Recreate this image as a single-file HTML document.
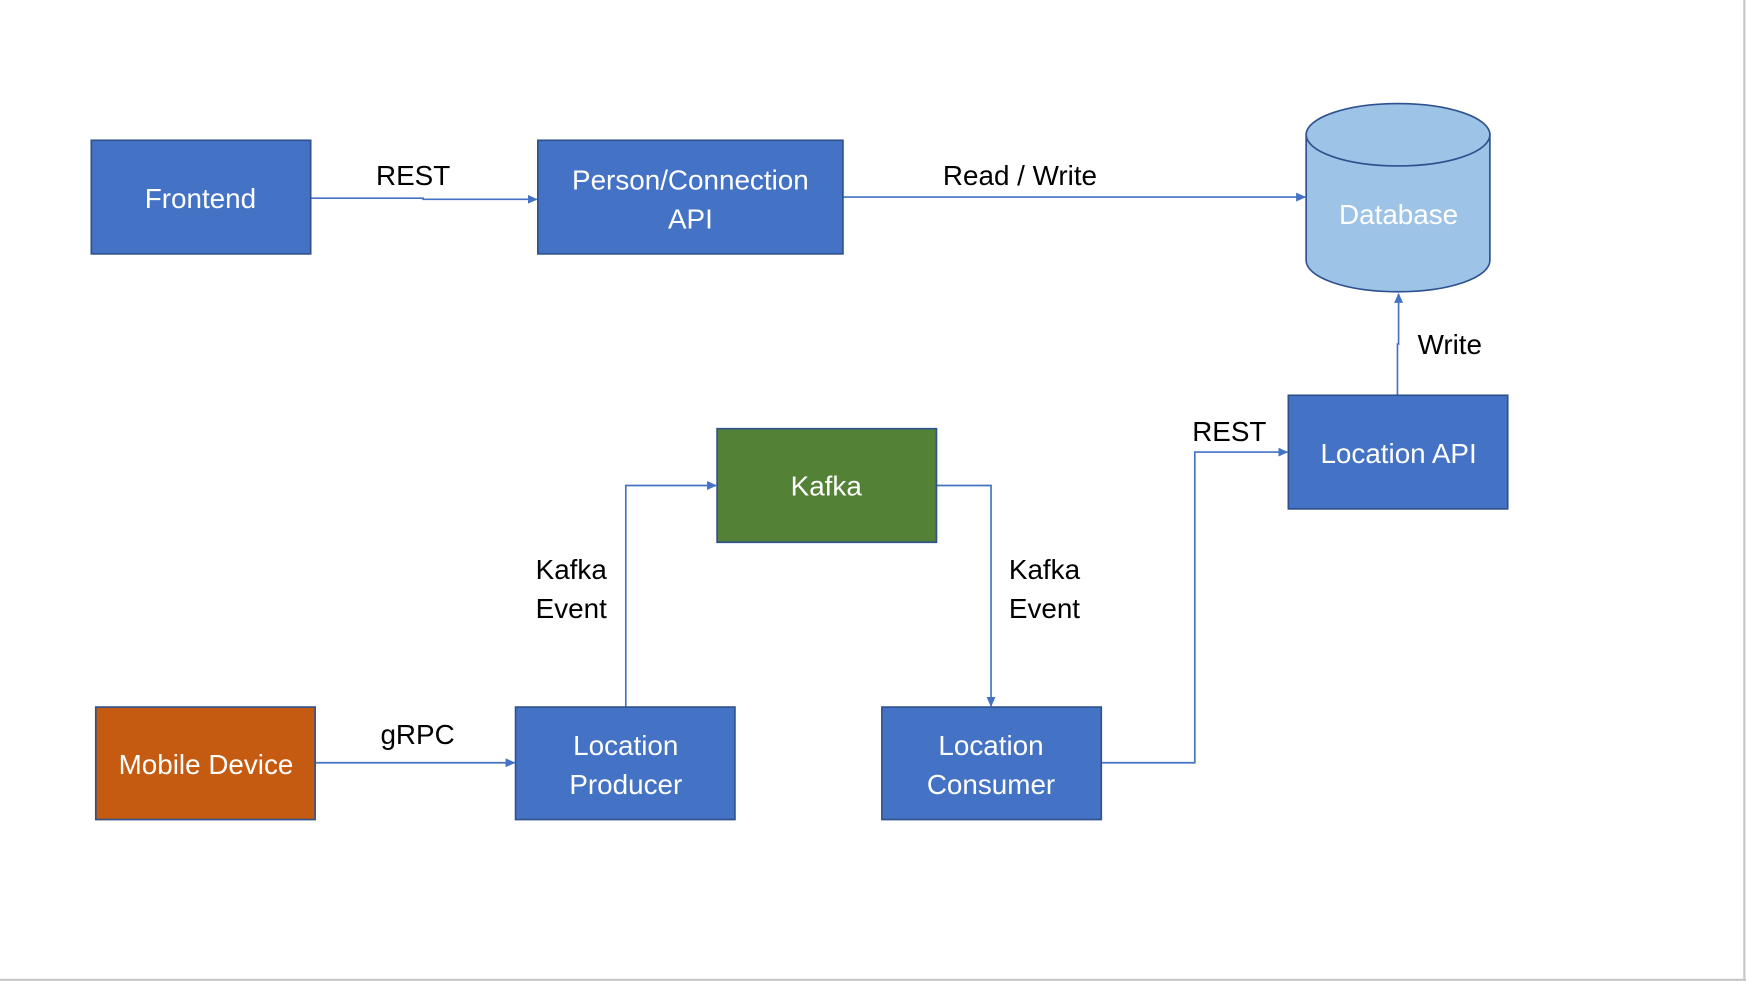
<!DOCTYPE html>
<html><head><meta charset="utf-8"><style>
html,body{margin:0;padding:0;background:#fff;width:1746px;height:981px;overflow:hidden}
svg{display:block}
text{font-family:"Liberation Sans",sans-serif;font-size:25px}
.w{fill:#fff;text-anchor:middle}
.b{fill:#000;text-anchor:middle}
.box{stroke:#2F528F;stroke-width:1.5}
.ln{stroke:#4472C4;stroke-width:1.5;fill:none}
</style></head><body>
<svg width="1746" height="981" viewBox="0 0 1568 881" preserveAspectRatio="none">
<defs><marker id="a" markerWidth="9" markerHeight="8" refX="8" refY="4" orient="auto" markerUnits="userSpaceOnUse"><path d="M0,0 L9,4 L0,8z" fill="#4472C4"/></marker></defs>
<rect x="0" y="0" width="1568" height="881" fill="#fff"/>
<line x1="1566.5" y1="0" x2="1566.5" y2="881" stroke="#c8c8c8" stroke-width="2"/>
<line x1="0" y1="880" x2="1568" y2="880" stroke="#c8c8c8" stroke-width="2"/>
<path class="ln" d="M279,178 H380 V179 H482" marker-end="url(#a)"/>
<path class="ln" d="M757,177 H1172" marker-end="url(#a)"/>
<path class="ln" d="M1255,355 V309 H1256 V264" marker-end="url(#a)"/>
<path class="ln" d="M283,685 H462" marker-end="url(#a)"/>
<path class="ln" d="M562,635 V436 H643" marker-end="url(#a)"/>
<path class="ln" d="M841,436 H890 V634" marker-end="url(#a)"/>
<path class="ln" d="M989,685 H1073 V406 H1156" marker-end="url(#a)"/>
<rect class="box" x="82" y="126" width="197" height="102" fill="#4472C4"/>
<rect class="box" x="483" y="126" width="274" height="102" fill="#4472C4"/>
<rect class="box" x="1157" y="355" width="197" height="102" fill="#4472C4"/>
<rect class="box" x="644" y="385" width="197" height="102" fill="#538135"/>
<rect class="box" x="86" y="635" width="197" height="101" fill="#C55A11"/>
<rect class="box" x="463" y="635" width="197" height="101" fill="#4472C4"/>
<rect class="box" x="792" y="635" width="197" height="101" fill="#4472C4"/>
<path d="M1173,121 V234 A82.5,28 0 0 0 1338,234 V121" fill="#9DC3E6" stroke="#2F528F" stroke-width="1.5"/>
<ellipse cx="1255.5" cy="121" rx="82.5" ry="28" fill="#9DC3E6" stroke="#2F528F" stroke-width="1.5"/>
<text class="w" x="180" y="187">Frontend</text>
<text class="w" x="620" y="170">Person/Connection</text>
<text class="w" x="620" y="205">API</text>
<text class="w" x="1256" y="201">Database</text>
<text class="w" x="1256" y="416">Location API</text>
<text class="w" x="742" y="445">Kafka</text>
<text class="w" x="185" y="695">Mobile Device</text>
<text class="w" x="562" y="678">Location</text>
<text class="w" x="562" y="713">Producer</text>
<text class="w" x="890" y="678">Location</text>
<text class="w" x="890" y="713">Consumer</text>
<text class="b" x="371" y="166">REST</text>
<text class="b" x="916" y="166">Read / Write</text>
<text class="b" x="1302" y="318">Write</text>
<text class="b" x="1104" y="396">REST</text>
<text class="b" x="375" y="668">gRPC</text>
<text class="b" x="513" y="520">Kafka</text>
<text class="b" x="513" y="555">Event</text>
<text class="b" x="938" y="520">Kafka</text>
<text class="b" x="938" y="555">Event</text>
</svg>
</body></html>
